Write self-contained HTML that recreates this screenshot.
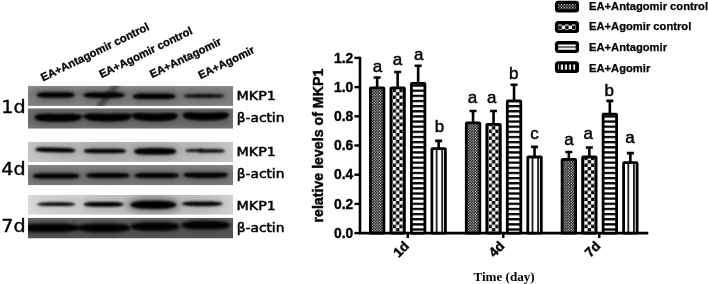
<!DOCTYPE html>
<html><head><meta charset="utf-8"><title>MKP1 figure</title>
<style>
html,body{margin:0;padding:0;background:#fff;}
body{width:708px;height:284px;overflow:hidden;}
svg{display:block;}
.ab{font-family:"Liberation Sans",Arial,sans-serif;font-weight:bold;fill:#000;}
.ar{font-family:"Liberation Sans",Arial,sans-serif;fill:#000;}
.ts{font-family:"Liberation Serif","Times New Roman",serif;font-weight:bold;fill:#000;}
.bl{font-family:"DejaVu Sans","Liberation Sans",sans-serif;fill:#000;}
</style></head><body>
<svg width="708" height="284" viewBox="0 0 708 284">
<defs>
<pattern id="p1" width="2.7" height="2.7" patternUnits="userSpaceOnUse" x="0.3" y="0.5"><rect width="2.7" height="2.7" fill="#000"/><circle cx="0.7" cy="0.7" r="0.66" fill="#fff"/><circle cx="2.05" cy="2.05" r="0.66" fill="#fff"/></pattern>
<pattern id="p2" width="6.8" height="6.8" patternUnits="userSpaceOnUse" x="3.1" y="228.2"><rect width="6.8" height="6.8" fill="#000"/><rect x="0" y="0" width="3.4" height="3.4" fill="#fff"/><rect x="3.4" y="3.4" width="3.4" height="3.4" fill="#fff"/></pattern>
<pattern id="p3" width="5.14" height="5.14" patternUnits="userSpaceOnUse" x="0" y="228.35"><rect width="5.14" height="5.14" fill="#fff"/><rect x="0" y="0" width="5.14" height="2.3" fill="#000"/></pattern>
<pattern id="p4" width="5.6" height="5" patternUnits="userSpaceOnUse" x="-0.4" y="0"><rect width="5.6" height="5" fill="#fff"/><rect x="0" y="0" width="1.8" height="5" fill="#1a1a1a"/></pattern>
<pattern id="l1" width="2.8" height="2.8" patternUnits="userSpaceOnUse" x="0.4" y="0.6"><rect width="2.8" height="2.8" fill="#000"/><rect x="0" y="0" width="1.1" height="1.1" fill="#fff"/><rect x="1.4" y="1.4" width="1.1" height="1.1" fill="#fff"/></pattern>
<pattern id="l2" width="6.8" height="6.8" patternUnits="userSpaceOnUse" x="3.5" y="1.2"><rect width="6.8" height="6.8" fill="#000"/><rect x="0" y="0" width="3.4" height="3.4" fill="#fff"/><rect x="3.4" y="3.4" width="3.4" height="3.4" fill="#fff"/></pattern>
<pattern id="l3" width="30" height="12" patternUnits="userSpaceOnUse"><rect width="30" height="12" fill="#fff"/><rect x="0" y="5.3" width="30" height="1.3" fill="#222"/></pattern>
<pattern id="l4" width="4.1" height="12" patternUnits="userSpaceOnUse" x="3.9" y="0"><rect width="4.1" height="12" fill="#fff"/><rect x="0" y="0" width="2.2" height="12" fill="#000"/></pattern>
<filter id="b1" filterUnits="userSpaceOnUse" x="0" y="60" width="260" height="200"><feGaussianBlur stdDeviation="1.0"/></filter>
<filter id="b2" filterUnits="userSpaceOnUse" x="0" y="60" width="260" height="200"><feGaussianBlur stdDeviation="1.5"/></filter>
<filter id="b3" filterUnits="userSpaceOnUse" x="0" y="60" width="260" height="200"><feGaussianBlur stdDeviation="3.2"/></filter>
<linearGradient id="g1d" x1="0" x2="0" y1="0" y2="1"><stop offset="0" stop-color="#8c8c8c"/><stop offset="0.3" stop-color="#7c7c7c"/><stop offset="1" stop-color="#808080"/></linearGradient>
<linearGradient id="g1a" x1="0" x2="0" y1="0" y2="1"><stop offset="0" stop-color="#707070"/><stop offset="0.5" stop-color="#6a6a6a"/><stop offset="1" stop-color="#727272"/></linearGradient>
<linearGradient id="g4m" x1="0" x2="1" y1="0" y2="0"><stop offset="0" stop-color="#c6c6c6"/><stop offset="0.35" stop-color="#b2b2b2"/><stop offset="0.7" stop-color="#b6b6b6"/><stop offset="1" stop-color="#c6c6c6"/></linearGradient>
<linearGradient id="g4a" x1="0" x2="0" y1="0" y2="1"><stop offset="0" stop-color="#868686"/><stop offset="0.5" stop-color="#787878"/><stop offset="1" stop-color="#7a7a7a"/></linearGradient>
<linearGradient id="g7m" x1="0" x2="1" y1="0" y2="0"><stop offset="0" stop-color="#d8d8d8"/><stop offset="0.45" stop-color="#c2c2c2"/><stop offset="0.8" stop-color="#c0c0c0"/><stop offset="1" stop-color="#d0d0d0"/></linearGradient>
<linearGradient id="g7a" x1="0" x2="0" y1="0" y2="1"><stop offset="0" stop-color="#6a6a6a"/><stop offset="0.25" stop-color="#585858"/><stop offset="1" stop-color="#525252"/></linearGradient>
<clipPath id="c1"><rect x="28" y="85.8" width="205" height="20.1"/></clipPath>
<clipPath id="c2"><rect x="28" y="108.2" width="205" height="20.5"/></clipPath>
<clipPath id="c3"><rect x="28" y="142" width="205" height="20"/></clipPath>
<clipPath id="c4"><rect x="28" y="165" width="205" height="20.3"/></clipPath>
<clipPath id="c5"><rect x="28" y="195" width="205" height="19.8"/></clipPath>
<clipPath id="c6"><rect x="28" y="217.7" width="205" height="20.8"/></clipPath>
</defs>
<rect width="708" height="284" fill="#fff"/>

<g clip-path="url(#c1)"><rect x="28" y="85.8" width="205" height="20.1" fill="url(#g1d)"/><polygon points="113,84 121,84 103,107 95,107" fill="#000" opacity="0.4" filter="url(#b2)"/>
<path d="M34.3 95.00L35.5 92.36L36.7 91.46L37.9 90.90L39.1 90.52L40.3 90.25L41.5 90.06L42.7 89.93L43.9 89.84L45.0 89.78L46.2 89.75L47.4 89.72L48.6 89.71L49.8 89.70L51.0 89.70L52.2 89.70L53.4 89.70L54.6 89.70L55.8 89.70L57.0 89.70L58.2 89.70L59.4 89.70L60.6 89.70L61.8 89.70L63.0 89.71L64.2 89.72L65.4 89.75L66.5 89.78L67.7 89.84L68.9 89.93L70.1 90.06L71.3 90.25L72.5 90.52L73.7 90.90L74.9 91.46L76.1 92.36L77.3 95.00L77.3 95.00L76.1 97.64L74.9 98.54L73.7 99.10L72.5 99.48L71.3 99.75L70.1 99.94L68.9 100.07L67.7 100.16L66.5 100.22L65.4 100.25L64.2 100.28L63.0 100.29L61.8 100.30L60.6 100.30L59.4 100.30L58.2 100.30L57.0 100.30L55.8 100.30L54.6 100.30L53.4 100.30L52.2 100.30L51.0 100.30L49.8 100.30L48.6 100.29L47.4 100.28L46.2 100.25L45.0 100.22L43.9 100.16L42.7 100.07L41.5 99.94L40.3 99.75L39.1 99.48L37.9 99.10L36.7 98.54L35.5 97.64L34.3 95.00Z" fill="#000" opacity="0.25" filter="url(#b3)"/><path d="M36.8 95.00L37.9 93.60L38.9 93.13L40.0 92.83L41.0 92.63L42.1 92.49L43.1 92.39L44.2 92.32L45.2 92.28L46.3 92.24L47.4 92.22L48.4 92.21L49.5 92.21L50.5 92.20L51.6 92.20L52.6 92.20L53.7 92.20L54.7 92.20L55.8 92.20L56.9 92.20L57.9 92.20L59.0 92.20L60.0 92.20L61.1 92.20L62.1 92.21L63.2 92.21L64.2 92.22L65.3 92.24L66.4 92.28L67.4 92.32L68.5 92.39L69.5 92.49L70.6 92.63L71.6 92.83L72.7 93.13L73.7 93.60L74.8 95.00L74.8 95.00L73.7 96.40L72.7 96.87L71.6 97.17L70.6 97.37L69.5 97.51L68.5 97.61L67.4 97.68L66.4 97.72L65.3 97.76L64.2 97.78L63.2 97.79L62.1 97.79L61.1 97.80L60.0 97.80L59.0 97.80L57.9 97.80L56.9 97.80L55.8 97.80L54.7 97.80L53.7 97.80L52.6 97.80L51.6 97.80L50.5 97.80L49.5 97.79L48.4 97.79L47.4 97.78L46.3 97.76L45.2 97.72L44.2 97.68L43.1 97.61L42.1 97.51L41.0 97.37L40.0 97.17L38.9 96.87L37.9 96.40L36.8 95.00Z" fill="#000" opacity="1" filter="url(#b1)"/>
<path d="M80.8 95.20L82.1 92.61L83.4 91.73L84.7 91.18L86.0 90.80L87.2 90.54L88.5 90.35L89.8 90.23L91.1 90.14L92.4 90.08L93.7 90.05L95.0 90.02L96.3 90.01L97.6 90.00L98.8 90.00L100.1 90.00L101.4 90.00L102.7 90.00L104.0 90.00L105.3 90.00L106.6 90.00L107.9 90.00L109.2 90.00L110.4 90.00L111.7 90.01L113.0 90.02L114.3 90.05L115.6 90.08L116.9 90.14L118.2 90.23L119.5 90.35L120.8 90.54L122.0 90.80L123.3 91.18L124.6 91.73L125.9 92.61L127.2 95.20L127.2 95.20L125.9 97.79L124.6 98.67L123.3 99.22L122.0 99.60L120.8 99.86L119.5 100.05L118.2 100.17L116.9 100.26L115.6 100.32L114.3 100.35L113.0 100.38L111.7 100.39L110.4 100.40L109.2 100.40L107.9 100.40L106.6 100.40L105.3 100.40L104.0 100.40L102.7 100.40L101.4 100.40L100.1 100.40L98.8 100.40L97.6 100.40L96.3 100.39L95.0 100.38L93.7 100.35L92.4 100.32L91.1 100.26L89.8 100.17L88.5 100.05L87.2 99.86L86.0 99.60L84.7 99.22L83.4 98.67L82.1 97.79L80.8 95.20Z" fill="#000" opacity="0.25" filter="url(#b3)"/><path d="M83.3 95.20L84.5 93.85L85.6 93.40L86.8 93.11L87.9 92.92L89.0 92.78L90.2 92.68L91.3 92.62L92.5 92.57L93.7 92.54L94.8 92.52L96.0 92.51L97.1 92.51L98.2 92.50L99.4 92.50L100.5 92.50L101.7 92.50L102.8 92.50L104.0 92.50L105.2 92.50L106.3 92.50L107.5 92.50L108.6 92.50L109.8 92.50L110.9 92.51L112.0 92.51L113.2 92.52L114.3 92.54L115.5 92.57L116.7 92.62L117.8 92.68L119.0 92.78L120.1 92.92L121.2 93.11L122.4 93.40L123.6 93.85L124.7 95.20L124.7 95.20L123.6 96.55L122.4 97.00L121.2 97.29L120.1 97.48L119.0 97.62L117.8 97.72L116.7 97.78L115.5 97.83L114.3 97.86L113.2 97.88L112.0 97.89L110.9 97.89L109.8 97.90L108.6 97.90L107.5 97.90L106.3 97.90L105.2 97.90L104.0 97.90L102.8 97.90L101.7 97.90L100.5 97.90L99.4 97.90L98.2 97.90L97.1 97.89L96.0 97.89L94.8 97.88L93.7 97.86L92.5 97.83L91.3 97.78L90.2 97.72L89.0 97.62L87.9 97.48L86.8 97.29L85.6 97.00L84.5 96.55L83.3 95.20Z" fill="#000" opacity="1" filter="url(#b1)"/>
<path d="M130.1 96.30L131.4 93.66L132.8 92.76L134.1 92.20L135.4 91.82L136.8 91.55L138.1 91.36L139.5 91.23L140.8 91.14L142.1 91.08L143.5 91.05L144.8 91.02L146.1 91.01L147.5 91.00L148.8 91.00L150.1 91.00L151.5 91.00L152.8 91.00L154.1 91.00L155.5 91.00L156.8 91.00L158.2 91.00L159.5 91.00L160.8 91.00L162.2 91.01L163.5 91.02L164.8 91.05L166.2 91.08L167.5 91.14L168.8 91.23L170.2 91.36L171.5 91.55L172.9 91.82L174.2 92.20L175.5 92.76L176.9 93.66L178.2 96.30L178.2 96.30L176.9 98.94L175.5 99.84L174.2 100.40L172.9 100.78L171.5 101.05L170.2 101.24L168.8 101.37L167.5 101.46L166.2 101.52L164.8 101.55L163.5 101.58L162.2 101.59L160.8 101.60L159.5 101.60L158.2 101.60L156.8 101.60L155.5 101.60L154.1 101.60L152.8 101.60L151.5 101.60L150.1 101.60L148.8 101.60L147.5 101.60L146.1 101.59L144.8 101.58L143.5 101.55L142.1 101.52L140.8 101.46L139.5 101.37L138.1 101.24L136.8 101.05L135.4 100.78L134.1 100.40L132.8 99.84L131.4 98.94L130.1 96.30Z" fill="#000" opacity="0.25" filter="url(#b3)"/><path d="M132.6 96.30L133.8 94.90L135.0 94.43L136.2 94.13L137.4 93.93L138.6 93.79L139.8 93.69L141.0 93.62L142.2 93.58L143.4 93.54L144.6 93.52L145.8 93.51L147.0 93.51L148.2 93.50L149.4 93.50L150.6 93.50L151.8 93.50L153.0 93.50L154.1 93.50L155.3 93.50L156.5 93.50L157.7 93.50L158.9 93.50L160.1 93.50L161.3 93.51L162.5 93.51L163.7 93.52L164.9 93.54L166.1 93.58L167.3 93.62L168.5 93.69L169.7 93.79L170.9 93.93L172.1 94.13L173.3 94.43L174.5 94.90L175.7 96.30L175.7 96.30L174.5 97.70L173.3 98.17L172.1 98.47L170.9 98.67L169.7 98.81L168.5 98.91L167.3 98.98L166.1 99.02L164.9 99.06L163.7 99.08L162.5 99.09L161.3 99.09L160.1 99.10L158.9 99.10L157.7 99.10L156.5 99.10L155.3 99.10L154.1 99.10L153.0 99.10L151.8 99.10L150.6 99.10L149.4 99.10L148.2 99.10L147.0 99.09L145.8 99.09L144.6 99.08L143.4 99.06L142.2 99.02L141.0 98.98L139.8 98.91L138.6 98.81L137.4 98.67L136.2 98.47L135.0 98.17L133.8 97.70L132.6 96.30Z" fill="#000" opacity="1" filter="url(#b1)"/>
<path d="M181.0 96.00L182.3 93.81L183.5 93.06L184.8 92.60L186.1 92.28L187.4 92.06L188.6 91.90L189.9 91.79L191.2 91.72L192.4 91.67L193.7 91.64L195.0 91.62L196.3 91.61L197.5 91.60L198.8 91.60L200.1 91.60L201.4 91.60L202.6 91.60L203.9 91.60L205.2 91.60L206.4 91.60L207.7 91.60L209.0 91.60L210.3 91.60L211.5 91.61L212.8 91.62L214.1 91.64L215.4 91.67L216.6 91.72L217.9 91.79L219.2 91.90L220.4 92.06L221.7 92.28L223.0 92.60L224.3 93.06L225.5 93.81L226.8 96.00L226.8 96.00L225.5 98.19L224.3 98.94L223.0 99.40L221.7 99.72L220.4 99.94L219.2 100.10L217.9 100.21L216.6 100.28L215.4 100.33L214.1 100.36L212.8 100.38L211.5 100.39L210.3 100.40L209.0 100.40L207.7 100.40L206.4 100.40L205.2 100.40L203.9 100.40L202.6 100.40L201.4 100.40L200.1 100.40L198.8 100.40L197.5 100.40L196.3 100.39L195.0 100.38L193.7 100.36L192.4 100.33L191.2 100.28L189.9 100.21L188.6 100.10L187.4 99.94L186.1 99.72L184.8 99.40L183.5 98.94L182.3 98.19L181.0 96.00Z" fill="#000" opacity="0.15" filter="url(#b3)"/><path d="M183.5 96.00L184.6 95.05L185.8 94.73L186.9 94.53L188.0 94.39L189.2 94.30L190.3 94.23L191.4 94.18L192.6 94.15L193.7 94.13L194.8 94.12L196.0 94.11L197.1 94.10L198.2 94.10L199.4 94.10L200.5 94.10L201.6 94.10L202.8 94.10L203.9 94.10L205.0 94.10L206.2 94.10L207.3 94.10L208.4 94.10L209.6 94.10L210.7 94.10L211.8 94.11L213.0 94.12L214.1 94.13L215.2 94.15L216.4 94.18L217.5 94.23L218.6 94.30L219.8 94.39L220.9 94.53L222.0 94.73L223.2 95.05L224.3 96.00L224.3 96.00L223.2 96.95L222.0 97.27L220.9 97.47L219.8 97.61L218.6 97.70L217.5 97.77L216.4 97.82L215.2 97.85L214.1 97.87L213.0 97.88L211.8 97.89L210.7 97.90L209.6 97.90L208.4 97.90L207.3 97.90L206.2 97.90L205.0 97.90L203.9 97.90L202.8 97.90L201.6 97.90L200.5 97.90L199.4 97.90L198.2 97.90L197.1 97.90L196.0 97.89L194.8 97.88L193.7 97.87L192.6 97.85L191.4 97.82L190.3 97.77L189.2 97.70L188.0 97.61L186.9 97.47L185.8 97.27L184.6 96.95L183.5 96.00Z" fill="#000" opacity="0.85" filter="url(#b1)"/>
</g>
<g clip-path="url(#c2)"><rect x="28" y="108.2" width="205" height="20.5" fill="url(#g1a)"/>
<path d="M32.0 117.20L33.4 114.07L34.9 113.06L36.3 112.43L37.7 112.02L39.2 111.75L40.6 111.57L42.1 111.45L43.5 111.39L44.9 111.35L46.4 111.34L47.8 111.34L49.2 111.35L50.7 111.36L52.1 111.37L53.5 111.38L55.0 111.39L56.4 111.40L57.9 111.40L59.3 111.40L60.7 111.39L62.2 111.38L63.6 111.37L65.0 111.36L66.5 111.35L67.9 111.34L69.3 111.34L70.8 111.35L72.2 111.39L73.6 111.45L75.1 111.57L76.5 111.75L78.0 112.02L79.4 112.43L80.8 113.06L82.3 114.07L83.7 117.20L83.7 117.20L82.3 120.46L80.8 121.60L79.4 122.33L78.0 122.85L76.5 123.22L75.1 123.50L73.6 123.70L72.2 123.84L70.8 123.95L69.3 124.03L67.9 124.08L66.5 124.12L65.0 124.15L63.6 124.17L62.2 124.18L60.7 124.19L59.3 124.20L57.9 124.20L56.4 124.20L55.0 124.19L53.5 124.18L52.1 124.17L50.7 124.15L49.2 124.12L47.8 124.08L46.4 124.03L44.9 123.95L43.5 123.84L42.1 123.70L40.6 123.50L39.2 123.22L37.7 122.85L36.3 122.33L34.9 121.60L33.4 120.46L32.0 117.20Z" fill="#000" opacity="0.22" filter="url(#b3)"/><path d="M34.5 117.20L35.8 115.32L37.1 114.72L38.4 114.37L39.7 114.14L41.0 113.99L42.3 113.90L43.6 113.85L44.9 113.82L46.2 113.81L47.5 113.82L48.8 113.83L50.1 113.84L51.4 113.86L52.7 113.87L54.0 113.88L55.3 113.89L56.6 113.90L57.9 113.90L59.1 113.90L60.4 113.89L61.7 113.88L63.0 113.87L64.3 113.86L65.6 113.84L66.9 113.83L68.2 113.82L69.5 113.81L70.8 113.82L72.1 113.85L73.4 113.90L74.7 113.99L76.0 114.14L77.3 114.37L78.6 114.72L79.9 115.32L81.2 117.20L81.2 117.20L79.9 119.21L78.6 119.93L77.3 120.40L76.0 120.74L74.7 120.98L73.4 121.17L72.1 121.31L70.8 121.41L69.5 121.49L68.2 121.55L66.9 121.59L65.6 121.63L64.3 121.65L63.0 121.67L61.7 121.68L60.4 121.69L59.1 121.70L57.9 121.70L56.6 121.70L55.3 121.69L54.0 121.68L52.7 121.67L51.4 121.65L50.1 121.63L48.8 121.59L47.5 121.55L46.2 121.49L44.9 121.41L43.6 121.31L42.3 121.17L41.0 120.98L39.7 120.74L38.4 120.40L37.1 119.93L35.8 119.21L34.5 117.20Z" fill="#000" opacity="1" filter="url(#b1)"/>
<path d="M82.0 116.40L83.4 113.34L84.9 112.38L86.3 111.82L87.7 111.46L89.2 111.24L90.6 111.10L92.0 111.03L93.4 111.00L94.9 111.00L96.3 111.02L97.7 111.05L99.2 111.08L100.6 111.11L102.0 111.14L103.5 111.17L104.9 111.19L106.3 111.20L107.8 111.20L109.2 111.20L110.6 111.19L112.0 111.17L113.5 111.14L114.9 111.11L116.3 111.08L117.8 111.05L119.2 111.02L120.6 111.00L122.1 111.00L123.5 111.03L124.9 111.10L126.3 111.24L127.8 111.46L129.2 111.82L130.6 112.38L132.1 113.34L133.5 116.40L133.5 116.40L132.1 119.72L130.6 120.92L129.2 121.72L127.8 122.29L126.3 122.71L124.9 123.03L123.5 123.27L122.1 123.46L120.6 123.60L119.2 123.71L117.8 123.79L116.3 123.85L114.9 123.90L113.5 123.94L112.0 123.97L110.6 123.99L109.2 124.00L107.8 124.00L106.3 124.00L104.9 123.99L103.5 123.97L102.0 123.94L100.6 123.90L99.2 123.85L97.7 123.79L96.3 123.71L94.9 123.60L93.4 123.46L92.0 123.27L90.6 123.03L89.2 122.71L87.7 122.29L86.3 121.72L84.9 120.92L83.4 119.72L82.0 116.40Z" fill="#000" opacity="0.22" filter="url(#b3)"/><path d="M84.5 116.40L85.8 114.59L87.1 114.05L88.4 113.75L89.7 113.58L91.0 113.48L92.2 113.43L93.5 113.42L94.8 113.43L96.1 113.46L97.4 113.50L98.7 113.54L100.0 113.57L101.3 113.61L102.6 113.64L103.9 113.67L105.2 113.69L106.5 113.70L107.8 113.70L109.0 113.70L110.3 113.69L111.6 113.67L112.9 113.64L114.2 113.61L115.5 113.57L116.8 113.54L118.1 113.50L119.4 113.46L120.7 113.43L122.0 113.42L123.2 113.43L124.5 113.48L125.8 113.58L127.1 113.75L128.4 114.05L129.7 114.59L131.0 116.40L131.0 116.40L129.7 118.47L128.4 119.25L127.1 119.78L125.8 120.17L124.5 120.47L123.2 120.70L122.0 120.88L120.7 121.03L119.4 121.14L118.1 121.23L116.8 121.30L115.5 121.36L114.2 121.40L112.9 121.44L111.6 121.47L110.3 121.49L109.0 121.50L107.8 121.50L106.5 121.50L105.2 121.49L103.9 121.47L102.6 121.44L101.3 121.40L100.0 121.36L98.7 121.30L97.4 121.23L96.1 121.14L94.8 121.03L93.5 120.88L92.2 120.70L91.0 120.47L89.7 120.17L88.4 119.78L87.1 119.25L85.8 118.47L84.5 116.40Z" fill="#000" opacity="1" filter="url(#b1)"/>
<path d="M130.0 115.70L131.4 112.68L132.8 111.77L134.2 111.24L135.6 110.92L137.0 110.73L138.4 110.63L139.8 110.58L141.2 110.58L142.6 110.60L144.0 110.64L145.4 110.69L146.8 110.74L148.2 110.78L149.6 110.82L151.0 110.86L152.4 110.88L153.8 110.90L155.2 110.90L156.7 110.90L158.1 110.88L159.5 110.86L160.9 110.82L162.3 110.78L163.7 110.74L165.1 110.69L166.5 110.64L167.9 110.60L169.3 110.58L170.7 110.58L172.1 110.63L173.5 110.73L174.9 110.92L176.3 111.24L177.7 111.77L179.1 112.68L180.5 115.70L180.5 115.70L179.1 119.06L177.7 120.31L176.3 121.14L174.9 121.75L173.5 122.20L172.1 122.55L170.7 122.82L169.3 123.03L167.9 123.20L166.5 123.33L165.1 123.43L163.7 123.51L162.3 123.57L160.9 123.62L159.5 123.66L158.1 123.68L156.7 123.70L155.2 123.70L153.8 123.70L152.4 123.68L151.0 123.66L149.6 123.62L148.2 123.57L146.8 123.51L145.4 123.43L144.0 123.33L142.6 123.20L141.2 123.03L139.8 122.82L138.4 122.55L137.0 122.20L135.6 121.75L134.2 121.14L132.8 120.31L131.4 119.06L130.0 115.70Z" fill="#000" opacity="0.22" filter="url(#b3)"/><path d="M132.5 115.70L133.8 113.93L135.0 113.43L136.3 113.17L137.6 113.03L138.8 112.97L140.1 112.95L141.3 112.97L142.6 113.01L143.9 113.06L145.1 113.12L146.4 113.18L147.7 113.23L148.9 113.28L150.2 113.32L151.5 113.36L152.7 113.38L154.0 113.40L155.2 113.40L156.5 113.40L157.8 113.38L159.0 113.36L160.3 113.32L161.6 113.28L162.8 113.23L164.1 113.18L165.4 113.12L166.6 113.06L167.9 113.01L169.2 112.97L170.4 112.95L171.7 112.97L172.9 113.03L174.2 113.17L175.5 113.43L176.7 113.93L178.0 115.70L178.0 115.70L176.7 117.82L175.5 118.64L174.2 119.21L172.9 119.63L171.7 119.96L170.4 120.22L169.2 120.43L167.9 120.60L166.6 120.74L165.4 120.85L164.1 120.94L162.8 121.01L161.6 121.07L160.3 121.12L159.0 121.16L157.8 121.18L156.5 121.20L155.2 121.20L154.0 121.20L152.7 121.18L151.5 121.16L150.2 121.12L148.9 121.07L147.7 121.01L146.4 120.94L145.1 120.85L143.9 120.74L142.6 120.60L141.3 120.43L140.1 120.22L138.8 119.96L137.6 119.63L136.3 119.21L135.0 118.64L133.8 117.82L132.5 115.70Z" fill="#000" opacity="1" filter="url(#b1)"/>
<path d="M180.0 114.90L181.4 111.90L182.9 111.01L184.3 110.50L185.7 110.20L187.2 110.02L188.6 109.94L190.0 109.91L191.4 109.92L192.9 109.95L194.3 110.00L195.7 110.06L197.2 110.11L198.6 110.17L200.0 110.21L201.5 110.25L202.9 110.28L204.3 110.29L205.8 110.30L207.2 110.29L208.6 110.28L210.0 110.25L211.5 110.21L212.9 110.17L214.3 110.11L215.8 110.06L217.2 110.00L218.6 109.95L220.1 109.92L221.5 109.91L222.9 109.94L224.3 110.02L225.8 110.20L227.2 110.50L228.6 111.01L230.1 111.90L231.5 114.90L231.5 114.90L230.1 118.29L228.6 119.55L227.2 120.40L225.8 121.02L224.3 121.50L222.9 121.86L221.5 122.15L220.1 122.37L218.6 122.55L217.2 122.69L215.8 122.80L214.3 122.89L212.9 122.96L211.5 123.01L210.0 123.05L208.6 123.08L207.2 123.09L205.8 123.10L204.3 123.09L202.9 123.08L201.5 123.05L200.0 123.01L198.6 122.96L197.2 122.89L195.7 122.80L194.3 122.69L192.9 122.55L191.4 122.37L190.0 122.15L188.6 121.86L187.2 121.50L185.7 121.02L184.3 120.40L182.9 119.55L181.4 118.29L180.0 114.90Z" fill="#000" opacity="0.22" filter="url(#b3)"/><path d="M182.5 114.90L183.8 113.15L185.1 112.68L186.4 112.43L187.7 112.31L189.0 112.27L190.2 112.27L191.5 112.30L192.8 112.35L194.1 112.41L195.4 112.48L196.7 112.55L198.0 112.61L199.3 112.66L200.6 112.71L201.9 112.75L203.2 112.78L204.5 112.79L205.8 112.80L207.0 112.79L208.3 112.78L209.6 112.75L210.9 112.71L212.2 112.66L213.5 112.61L214.8 112.55L216.1 112.48L217.4 112.41L218.7 112.35L220.0 112.30L221.2 112.27L222.5 112.27L223.8 112.31L225.1 112.43L226.4 112.68L227.7 113.15L229.0 114.90L229.0 114.90L227.7 117.04L226.4 117.88L225.1 118.47L223.8 118.91L222.5 119.26L221.2 119.53L220.0 119.76L218.7 119.94L217.4 120.09L216.1 120.21L214.8 120.31L213.5 120.39L212.2 120.46L210.9 120.51L209.6 120.55L208.3 120.58L207.0 120.59L205.8 120.60L204.5 120.59L203.2 120.58L201.9 120.55L200.6 120.51L199.3 120.46L198.0 120.39L196.7 120.31L195.4 120.21L194.1 120.09L192.8 119.94L191.5 119.76L190.2 119.53L189.0 119.26L187.7 118.91L186.4 118.47L185.1 117.88L183.8 117.04L182.5 114.90Z" fill="#000" opacity="1" filter="url(#b1)"/>
<path d="M78.0 116.50L78.3 115.75L78.6 115.50L78.8 115.34L79.1 115.23L79.4 115.16L79.7 115.10L79.9 115.07L80.2 115.04L80.5 115.02L80.8 115.01L81.1 115.01L81.3 115.00L81.6 115.00L81.9 115.00L82.2 115.00L82.4 115.00L82.7 115.00L83.0 115.00L83.3 115.00L83.6 115.00L83.8 115.00L84.1 115.00L84.4 115.00L84.7 115.00L84.9 115.01L85.2 115.01L85.5 115.02L85.8 115.04L86.1 115.07L86.3 115.10L86.6 115.16L86.9 115.23L87.2 115.34L87.4 115.50L87.7 115.75L88.0 116.50L88.0 116.50L87.7 117.25L87.4 117.50L87.2 117.66L86.9 117.77L86.6 117.84L86.3 117.90L86.1 117.93L85.8 117.96L85.5 117.98L85.2 117.99L84.9 117.99L84.7 118.00L84.4 118.00L84.1 118.00L83.8 118.00L83.6 118.00L83.3 118.00L83.0 118.00L82.7 118.00L82.4 118.00L82.2 118.00L81.9 118.00L81.6 118.00L81.3 118.00L81.1 117.99L80.8 117.99L80.5 117.98L80.2 117.96L79.9 117.93L79.7 117.90L79.4 117.84L79.1 117.77L78.8 117.66L78.6 117.50L78.3 117.25L78.0 116.50Z" fill="#000" opacity="0.6" filter="url(#b1)"/>
<path d="M128.0 115.50L128.2 114.75L128.4 114.50L128.7 114.34L128.9 114.23L129.1 114.16L129.3 114.10L129.6 114.07L129.8 114.04L130.0 114.02L130.2 114.01L130.4 114.01L130.7 114.00L130.9 114.00L131.1 114.00L131.3 114.00L131.6 114.00L131.8 114.00L132.0 114.00L132.2 114.00L132.4 114.00L132.7 114.00L132.9 114.00L133.1 114.00L133.3 114.00L133.6 114.01L133.8 114.01L134.0 114.02L134.2 114.04L134.4 114.07L134.7 114.10L134.9 114.16L135.1 114.23L135.3 114.34L135.6 114.50L135.8 114.75L136.0 115.50L136.0 115.50L135.8 116.25L135.6 116.50L135.3 116.66L135.1 116.77L134.9 116.84L134.7 116.90L134.4 116.93L134.2 116.96L134.0 116.98L133.8 116.99L133.6 116.99L133.3 117.00L133.1 117.00L132.9 117.00L132.7 117.00L132.4 117.00L132.2 117.00L132.0 117.00L131.8 117.00L131.6 117.00L131.3 117.00L131.1 117.00L130.9 117.00L130.7 117.00L130.4 116.99L130.2 116.99L130.0 116.98L129.8 116.96L129.6 116.93L129.3 116.90L129.1 116.84L128.9 116.77L128.7 116.66L128.4 116.50L128.2 116.25L128.0 115.50Z" fill="#000" opacity="0.7" filter="url(#b1)"/>
</g>
<g clip-path="url(#c3)"><rect x="28" y="142" width="205" height="20" fill="url(#g4m)"/>
<path d="M32.6 149.40L33.9 147.02L35.1 146.23L36.4 145.75L37.7 145.43L38.9 145.22L40.2 145.08L41.5 144.99L42.7 144.95L44.0 144.93L45.3 144.93L46.5 144.94L47.8 144.96L49.1 144.99L50.3 145.02L51.6 145.05L52.9 145.08L54.1 145.12L55.4 145.15L56.7 145.18L57.9 145.22L59.2 145.25L60.5 145.28L61.7 145.32L63.0 145.36L64.3 145.40L65.5 145.46L66.8 145.53L68.1 145.61L69.3 145.73L70.6 145.88L71.9 146.09L73.1 146.36L74.4 146.75L75.7 147.30L76.9 148.15L78.2 150.60L78.2 150.60L76.9 152.98L75.7 153.77L74.4 154.25L73.1 154.57L71.9 154.78L70.6 154.92L69.3 155.01L68.1 155.05L66.8 155.07L65.5 155.07L64.3 155.06L63.0 155.04L61.7 155.01L60.5 154.98L59.2 154.95L57.9 154.92L56.7 154.88L55.4 154.85L54.1 154.82L52.9 154.78L51.6 154.75L50.3 154.72L49.1 154.68L47.8 154.64L46.5 154.60L45.3 154.54L44.0 154.47L42.7 154.39L41.5 154.27L40.2 154.12L38.9 153.91L37.7 153.64L36.4 153.25L35.1 152.70L33.9 151.85L32.6 149.40Z" fill="#000" opacity="0.12" filter="url(#b3)"/><path d="M35.1 149.40L36.2 148.26L37.4 147.90L38.5 147.68L39.6 147.55L40.7 147.46L41.9 147.41L43.0 147.39L44.1 147.38L45.2 147.39L46.4 147.40L47.5 147.43L48.6 147.45L49.8 147.49L50.9 147.52L52.0 147.55L53.1 147.58L54.3 147.62L55.4 147.65L56.5 147.68L57.7 147.72L58.8 147.75L59.9 147.78L61.0 147.82L62.2 147.85L63.3 147.89L64.4 147.94L65.6 147.99L66.7 148.05L67.8 148.12L68.9 148.21L70.1 148.33L71.2 148.48L72.3 148.68L73.4 148.97L74.6 149.40L75.7 150.60L75.7 150.60L74.6 151.74L73.4 152.10L72.3 152.32L71.2 152.45L70.1 152.54L68.9 152.59L67.8 152.61L66.7 152.62L65.6 152.61L64.4 152.60L63.3 152.57L62.2 152.55L61.0 152.51L59.9 152.48L58.8 152.45L57.7 152.42L56.5 152.38L55.4 152.35L54.3 152.32L53.1 152.28L52.0 152.25L50.9 152.22L49.8 152.18L48.6 152.15L47.5 152.11L46.4 152.06L45.2 152.01L44.1 151.95L43.0 151.88L41.9 151.79L40.7 151.67L39.6 151.52L38.5 151.32L37.4 151.03L36.2 150.60L35.1 149.40Z" fill="#000" opacity="1" filter="url(#b1)"/>
<path d="M80.8 151.00L82.1 148.63L83.5 147.83L84.8 147.33L86.1 146.98L87.5 146.74L88.8 146.57L90.2 146.46L91.5 146.38L92.8 146.32L94.2 146.29L95.5 146.27L96.8 146.26L98.2 146.25L99.5 146.25L100.8 146.25L102.2 146.25L103.5 146.25L104.8 146.25L106.2 146.25L107.5 146.25L108.9 146.25L110.2 146.25L111.5 146.25L112.9 146.26L114.2 146.27L115.5 146.29L116.9 146.32L118.2 146.38L119.5 146.46L120.9 146.57L122.2 146.74L123.6 146.98L124.9 147.33L126.2 147.83L127.6 148.63L128.9 151.00L128.9 151.00L127.6 153.37L126.2 154.17L124.9 154.67L123.6 155.02L122.2 155.26L120.9 155.43L119.5 155.54L118.2 155.62L116.9 155.68L115.5 155.71L114.2 155.73L112.9 155.74L111.5 155.75L110.2 155.75L108.9 155.75L107.5 155.75L106.2 155.75L104.8 155.75L103.5 155.75L102.2 155.75L100.8 155.75L99.5 155.75L98.2 155.75L96.8 155.74L95.5 155.73L94.2 155.71L92.8 155.68L91.5 155.62L90.2 155.54L88.8 155.43L87.5 155.26L86.1 155.02L84.8 154.67L83.5 154.17L82.1 153.37L80.8 151.00Z" fill="#000" opacity="0.12" filter="url(#b3)"/><path d="M83.3 151.00L84.5 149.88L85.7 149.50L86.9 149.26L88.1 149.10L89.3 148.98L90.5 148.90L91.7 148.85L92.9 148.81L94.1 148.79L95.3 148.77L96.5 148.76L97.7 148.75L98.9 148.75L100.1 148.75L101.3 148.75L102.5 148.75L103.7 148.75L104.8 148.75L106.0 148.75L107.2 148.75L108.4 148.75L109.6 148.75L110.8 148.75L112.0 148.75L113.2 148.76L114.4 148.77L115.6 148.79L116.8 148.81L118.0 148.85L119.2 148.90L120.4 148.98L121.6 149.10L122.8 149.26L124.0 149.50L125.2 149.88L126.4 151.00L126.4 151.00L125.2 152.12L124.0 152.50L122.8 152.74L121.6 152.90L120.4 153.02L119.2 153.10L118.0 153.15L116.8 153.19L115.6 153.21L114.4 153.23L113.2 153.24L112.0 153.25L110.8 153.25L109.6 153.25L108.4 153.25L107.2 153.25L106.0 153.25L104.8 153.25L103.7 153.25L102.5 153.25L101.3 153.25L100.1 153.25L98.9 153.25L97.7 153.25L96.5 153.24L95.3 153.23L94.1 153.21L92.9 153.19L91.7 153.15L90.5 153.10L89.3 153.02L88.1 152.90L86.9 152.74L85.7 152.50L84.5 152.12L83.3 151.00Z" fill="#000" opacity="1" filter="url(#b1)"/>
<path d="M131.3 151.40L132.6 148.51L134.0 147.53L135.3 146.91L136.6 146.49L137.9 146.20L139.2 146.00L140.6 145.85L141.9 145.76L143.2 145.69L144.6 145.65L145.9 145.63L147.2 145.61L148.5 145.60L149.9 145.60L151.2 145.60L152.5 145.60L153.8 145.60L155.2 145.60L156.5 145.60L157.8 145.60L159.1 145.60L160.5 145.60L161.8 145.60L163.1 145.61L164.4 145.63L165.8 145.65L167.1 145.69L168.4 145.76L169.7 145.85L171.1 146.00L172.4 146.20L173.7 146.49L175.0 146.91L176.3 147.53L177.7 148.51L179.0 151.40L179.0 151.40L177.7 154.29L176.3 155.27L175.0 155.89L173.7 156.31L172.4 156.60L171.1 156.80L169.7 156.95L168.4 157.04L167.1 157.11L165.8 157.15L164.4 157.17L163.1 157.19L161.8 157.20L160.5 157.20L159.1 157.20L157.8 157.20L156.5 157.20L155.2 157.20L153.8 157.20L152.5 157.20L151.2 157.20L149.9 157.20L148.5 157.20L147.2 157.19L145.9 157.17L144.6 157.15L143.2 157.11L141.9 157.04L140.6 156.95L139.2 156.80L137.9 156.60L136.6 156.31L135.3 155.89L134.0 155.27L132.6 154.29L131.3 151.40Z" fill="#000" opacity="0.18" filter="url(#b3)"/><path d="M133.8 151.40L135.0 149.75L136.2 149.20L137.4 148.85L138.5 148.61L139.7 148.44L140.9 148.32L142.1 148.24L143.3 148.19L144.5 148.15L145.7 148.13L146.8 148.11L148.0 148.11L149.2 148.10L150.4 148.10L151.6 148.10L152.8 148.10L154.0 148.10L155.2 148.10L156.3 148.10L157.5 148.10L158.7 148.10L159.9 148.10L161.1 148.10L162.3 148.11L163.5 148.11L164.6 148.13L165.8 148.15L167.0 148.19L168.2 148.24L169.4 148.32L170.6 148.44L171.8 148.61L172.9 148.85L174.1 149.20L175.3 149.75L176.5 151.40L176.5 151.40L175.3 153.05L174.1 153.60L172.9 153.95L171.8 154.19L170.6 154.36L169.4 154.48L168.2 154.56L167.0 154.61L165.8 154.65L164.6 154.67L163.5 154.69L162.3 154.69L161.1 154.70L159.9 154.70L158.7 154.70L157.5 154.70L156.3 154.70L155.2 154.70L154.0 154.70L152.8 154.70L151.6 154.70L150.4 154.70L149.2 154.70L148.0 154.69L146.8 154.69L145.7 154.67L144.5 154.65L143.3 154.61L142.1 154.56L140.9 154.48L139.7 154.36L138.5 154.19L137.4 153.95L136.2 153.60L135.0 153.05L133.8 151.40Z" fill="#000" opacity="1" filter="url(#b1)"/>
<path d="M183.0 150.60L183.7 148.61L184.3 147.93L185.0 147.51L185.6 147.22L186.3 147.01L186.9 146.87L187.6 146.77L188.2 146.71L188.9 146.66L189.5 146.63L190.2 146.62L190.8 146.61L191.5 146.60L192.1 146.60L192.8 146.60L193.4 146.60L194.1 146.60L194.8 146.60L195.4 146.60L196.1 146.60L196.7 146.60L197.4 146.60L198.0 146.60L198.7 146.61L199.3 146.62L200.0 146.63L200.6 146.66L201.3 146.71L201.9 146.77L202.6 146.87L203.2 147.01L203.9 147.22L204.5 147.51L205.2 147.93L205.8 148.61L206.5 150.60L206.5 150.60L205.8 152.59L205.2 153.27L204.5 153.69L203.9 153.98L203.2 154.19L202.6 154.33L201.9 154.43L201.3 154.49L200.6 154.54L200.0 154.57L199.3 154.58L198.7 154.59L198.0 154.60L197.4 154.60L196.7 154.60L196.1 154.60L195.4 154.60L194.8 154.60L194.1 154.60L193.4 154.60L192.8 154.60L192.1 154.60L191.5 154.60L190.8 154.59L190.2 154.58L189.5 154.57L188.9 154.54L188.2 154.49L187.6 154.43L186.9 154.33L186.3 154.19L185.6 153.98L185.0 153.69L184.3 153.27L183.7 152.59L183.0 150.60Z" fill="#000" opacity="0.08" filter="url(#b3)"/><path d="M185.5 150.60L186.0 149.85L186.5 149.60L187.0 149.44L187.6 149.33L188.1 149.26L188.6 149.20L189.1 149.17L189.6 149.14L190.1 149.12L190.6 149.11L191.2 149.11L191.7 149.10L192.2 149.10L192.7 149.10L193.2 149.10L193.7 149.10L194.2 149.10L194.8 149.10L195.3 149.10L195.8 149.10L196.3 149.10L196.8 149.10L197.3 149.10L197.8 149.10L198.3 149.11L198.9 149.11L199.4 149.12L199.9 149.14L200.4 149.17L200.9 149.20L201.4 149.26L201.9 149.33L202.5 149.44L203.0 149.60L203.5 149.85L204.0 150.60L204.0 150.60L203.5 151.35L203.0 151.60L202.5 151.76L201.9 151.87L201.4 151.94L200.9 152.00L200.4 152.03L199.9 152.06L199.4 152.08L198.9 152.09L198.3 152.09L197.8 152.10L197.3 152.10L196.8 152.10L196.3 152.10L195.8 152.10L195.3 152.10L194.8 152.10L194.2 152.10L193.7 152.10L193.2 152.10L192.7 152.10L192.2 152.10L191.7 152.10L191.2 152.09L190.6 152.09L190.1 152.08L189.6 152.06L189.1 152.03L188.6 152.00L188.1 151.94L187.6 151.87L187.0 151.76L186.5 151.60L186.0 151.35L185.5 150.60Z" fill="#000" opacity="0.9" filter="url(#b1)"/>
<path d="M195.5 150.90L196.4 148.76L197.3 148.03L198.2 147.57L199.1 147.26L199.9 147.05L200.8 146.89L201.7 146.79L202.6 146.72L203.5 146.67L204.4 146.64L205.3 146.62L206.2 146.61L207.1 146.60L207.9 146.60L208.8 146.60L209.7 146.60L210.6 146.60L211.5 146.60L212.4 146.60L213.3 146.60L214.2 146.60L215.1 146.60L215.9 146.60L216.8 146.61L217.7 146.62L218.6 146.64L219.5 146.67L220.4 146.72L221.3 146.79L222.2 146.89L223.1 147.05L223.9 147.26L224.8 147.57L225.7 148.03L226.6 148.76L227.5 150.90L227.5 150.90L226.6 153.04L225.7 153.77L224.8 154.23L223.9 154.54L223.1 154.75L222.2 154.91L221.3 155.01L220.4 155.08L219.5 155.13L218.6 155.16L217.7 155.18L216.8 155.19L215.9 155.20L215.1 155.20L214.2 155.20L213.3 155.20L212.4 155.20L211.5 155.20L210.6 155.20L209.7 155.20L208.8 155.20L207.9 155.20L207.1 155.20L206.2 155.19L205.3 155.18L204.4 155.16L203.5 155.13L202.6 155.08L201.7 155.01L200.8 154.91L199.9 154.75L199.1 154.54L198.2 154.23L197.3 153.77L196.4 153.04L195.5 150.90Z" fill="#000" opacity="0.08" filter="url(#b3)"/><path d="M198.0 150.90L198.8 150.00L199.5 149.70L200.2 149.51L201.0 149.38L201.8 149.29L202.5 149.22L203.2 149.18L204.0 149.15L204.8 149.13L205.5 149.12L206.2 149.11L207.0 149.10L207.8 149.10L208.5 149.10L209.2 149.10L210.0 149.10L210.8 149.10L211.5 149.10L212.2 149.10L213.0 149.10L213.8 149.10L214.5 149.10L215.2 149.10L216.0 149.10L216.8 149.11L217.5 149.12L218.2 149.13L219.0 149.15L219.8 149.18L220.5 149.22L221.2 149.29L222.0 149.38L222.8 149.51L223.5 149.70L224.2 150.00L225.0 150.90L225.0 150.90L224.2 151.80L223.5 152.10L222.8 152.29L222.0 152.42L221.2 152.51L220.5 152.58L219.8 152.62L219.0 152.65L218.2 152.67L217.5 152.68L216.8 152.69L216.0 152.70L215.2 152.70L214.5 152.70L213.8 152.70L213.0 152.70L212.2 152.70L211.5 152.70L210.8 152.70L210.0 152.70L209.2 152.70L208.5 152.70L207.8 152.70L207.0 152.70L206.2 152.69L205.5 152.68L204.8 152.67L204.0 152.65L203.2 152.62L202.5 152.58L201.8 152.51L201.0 152.42L200.2 152.29L199.5 152.10L198.8 151.80L198.0 150.90Z" fill="#000" opacity="0.92" filter="url(#b1)"/>
</g>
<g clip-path="url(#c4)"><rect x="28" y="165" width="205" height="20.3" fill="url(#g4a)"/>
<path d="M30.1 176.00L31.6 173.46L33.0 172.60L34.5 172.06L35.9 171.69L37.4 171.43L38.8 171.25L40.3 171.12L41.7 171.04L43.2 170.98L44.6 170.94L46.1 170.92L47.5 170.91L49.0 170.90L50.4 170.90L51.9 170.90L53.3 170.90L54.8 170.90L56.2 170.90L57.7 170.90L59.2 170.90L60.6 170.90L62.1 170.90L63.5 170.90L65.0 170.91L66.4 170.92L67.9 170.94L69.3 170.98L70.8 171.04L72.2 171.12L73.7 171.25L75.1 171.43L76.6 171.69L78.0 172.06L79.5 172.60L80.9 173.46L82.4 176.00L82.4 176.00L80.9 178.54L79.5 179.40L78.0 179.94L76.6 180.31L75.1 180.57L73.7 180.75L72.2 180.88L70.8 180.96L69.3 181.02L67.9 181.06L66.4 181.08L65.0 181.09L63.5 181.10L62.1 181.10L60.6 181.10L59.2 181.10L57.7 181.10L56.2 181.10L54.8 181.10L53.3 181.10L51.9 181.10L50.4 181.10L49.0 181.10L47.5 181.09L46.1 181.08L44.6 181.06L43.2 181.02L41.7 180.96L40.3 180.88L38.8 180.75L37.4 180.57L35.9 180.31L34.5 179.94L33.0 179.40L31.6 178.54L30.1 176.00Z" fill="#000" opacity="0.25" filter="url(#b3)"/><path d="M32.6 176.00L33.9 174.70L35.2 174.27L36.5 173.99L37.9 173.80L39.2 173.67L40.5 173.58L41.8 173.51L43.1 173.47L44.4 173.44L45.7 173.42L47.1 173.41L48.4 173.41L49.7 173.40L51.0 173.40L52.3 173.40L53.6 173.40L54.9 173.40L56.2 173.40L57.6 173.40L58.9 173.40L60.2 173.40L61.5 173.40L62.8 173.40L64.1 173.41L65.4 173.41L66.8 173.42L68.1 173.44L69.4 173.47L70.7 173.51L72.0 173.58L73.3 173.67L74.6 173.80L76.0 173.99L77.3 174.27L78.6 174.70L79.9 176.00L79.9 176.00L78.6 177.30L77.3 177.73L76.0 178.01L74.6 178.20L73.3 178.33L72.0 178.42L70.7 178.49L69.4 178.53L68.1 178.56L66.8 178.58L65.4 178.59L64.1 178.59L62.8 178.60L61.5 178.60L60.2 178.60L58.9 178.60L57.6 178.60L56.2 178.60L54.9 178.60L53.6 178.60L52.3 178.60L51.0 178.60L49.7 178.60L48.4 178.59L47.1 178.59L45.7 178.58L44.4 178.56L43.1 178.53L41.8 178.49L40.5 178.42L39.2 178.33L37.9 178.20L36.5 178.01L35.2 177.73L33.9 177.30L32.6 176.00Z" fill="#000" opacity="1" filter="url(#b1)"/>
<path d="M83.3 175.50L84.7 173.03L86.0 172.20L87.4 171.67L88.7 171.31L90.1 171.06L91.4 170.89L92.8 170.77L94.2 170.68L95.5 170.63L96.9 170.59L98.2 170.57L99.6 170.56L101.0 170.55L102.3 170.55L103.7 170.55L105.0 170.55L106.4 170.55L107.8 170.55L109.1 170.55L110.5 170.55L111.8 170.55L113.2 170.55L114.5 170.55L115.9 170.56L117.3 170.57L118.6 170.59L120.0 170.63L121.3 170.68L122.7 170.77L124.0 170.89L125.4 171.06L126.8 171.31L128.1 171.67L129.5 172.20L130.8 173.03L132.2 175.50L132.2 175.50L130.8 177.97L129.5 178.80L128.1 179.33L126.8 179.69L125.4 179.94L124.0 180.11L122.7 180.23L121.3 180.32L120.0 180.37L118.6 180.41L117.3 180.43L115.9 180.44L114.5 180.45L113.2 180.45L111.8 180.45L110.5 180.45L109.1 180.45L107.8 180.45L106.4 180.45L105.0 180.45L103.7 180.45L102.3 180.45L101.0 180.45L99.6 180.44L98.2 180.43L96.9 180.41L95.5 180.37L94.2 180.32L92.8 180.23L91.4 180.11L90.1 179.94L88.7 179.69L87.4 179.33L86.0 178.80L84.7 177.97L83.3 175.50Z" fill="#000" opacity="0.25" filter="url(#b3)"/><path d="M85.8 175.50L87.0 174.28L88.2 173.87L89.5 173.61L90.7 173.43L91.9 173.30L93.1 173.22L94.3 173.16L95.6 173.12L96.8 173.09L98.0 173.07L99.2 173.06L100.4 173.06L101.7 173.05L102.9 173.05L104.1 173.05L105.3 173.05L106.5 173.05L107.8 173.05L109.0 173.05L110.2 173.05L111.4 173.05L112.6 173.05L113.8 173.05L115.1 173.06L116.3 173.06L117.5 173.07L118.7 173.09L119.9 173.12L121.2 173.16L122.4 173.22L123.6 173.30L124.8 173.43L126.0 173.61L127.3 173.87L128.5 174.28L129.7 175.50L129.7 175.50L128.5 176.72L127.3 177.13L126.0 177.39L124.8 177.57L123.6 177.70L122.4 177.78L121.2 177.84L119.9 177.88L118.7 177.91L117.5 177.93L116.3 177.94L115.1 177.94L113.8 177.95L112.6 177.95L111.4 177.95L110.2 177.95L109.0 177.95L107.8 177.95L106.5 177.95L105.3 177.95L104.1 177.95L102.9 177.95L101.7 177.95L100.4 177.94L99.2 177.94L98.0 177.93L96.8 177.91L95.6 177.88L94.3 177.84L93.1 177.78L91.9 177.70L90.7 177.57L89.5 177.39L88.2 177.13L87.0 176.72L85.8 175.50Z" fill="#000" opacity="1" filter="url(#b1)"/>
<path d="M131.8 175.50L133.2 172.96L134.6 172.10L135.9 171.56L137.3 171.19L138.7 170.93L140.1 170.75L141.5 170.62L142.8 170.54L144.2 170.48L145.6 170.44L147.0 170.42L148.4 170.41L149.7 170.40L151.1 170.40L152.5 170.40L153.9 170.40L155.3 170.40L156.7 170.40L158.0 170.40L159.4 170.40L160.8 170.40L162.2 170.40L163.6 170.40L164.9 170.41L166.3 170.42L167.7 170.44L169.1 170.48L170.5 170.54L171.8 170.62L173.2 170.75L174.6 170.93L176.0 171.19L177.4 171.56L178.7 172.10L180.1 172.96L181.5 175.50L181.5 175.50L180.1 178.04L178.7 178.90L177.4 179.44L176.0 179.81L174.6 180.07L173.2 180.25L171.8 180.38L170.5 180.46L169.1 180.52L167.7 180.56L166.3 180.58L164.9 180.59L163.6 180.60L162.2 180.60L160.8 180.60L159.4 180.60L158.0 180.60L156.7 180.60L155.3 180.60L153.9 180.60L152.5 180.60L151.1 180.60L149.7 180.60L148.4 180.59L147.0 180.58L145.6 180.56L144.2 180.52L142.8 180.46L141.5 180.38L140.1 180.25L138.7 180.07L137.3 179.81L135.9 179.44L134.6 178.90L133.2 178.04L131.8 175.50Z" fill="#000" opacity="0.25" filter="url(#b3)"/><path d="M134.3 175.50L135.5 174.20L136.8 173.77L138.0 173.49L139.3 173.30L140.5 173.17L141.8 173.08L143.0 173.01L144.2 172.97L145.5 172.94L146.7 172.92L148.0 172.91L149.2 172.91L150.4 172.90L151.7 172.90L152.9 172.90L154.2 172.90L155.4 172.90L156.7 172.90L157.9 172.90L159.1 172.90L160.4 172.90L161.6 172.90L162.9 172.90L164.1 172.91L165.3 172.91L166.6 172.92L167.8 172.94L169.1 172.97L170.3 173.01L171.6 173.08L172.8 173.17L174.0 173.30L175.3 173.49L176.5 173.77L177.8 174.20L179.0 175.50L179.0 175.50L177.8 176.80L176.5 177.23L175.3 177.51L174.0 177.70L172.8 177.83L171.6 177.92L170.3 177.99L169.1 178.03L167.8 178.06L166.6 178.08L165.3 178.09L164.1 178.09L162.9 178.10L161.6 178.10L160.4 178.10L159.1 178.10L157.9 178.10L156.7 178.10L155.4 178.10L154.2 178.10L152.9 178.10L151.7 178.10L150.4 178.10L149.2 178.09L148.0 178.09L146.7 178.08L145.5 178.06L144.2 178.03L143.0 177.99L141.8 177.92L140.5 177.83L139.3 177.70L138.0 177.51L136.8 177.23L135.5 176.80L134.3 175.50Z" fill="#000" opacity="1" filter="url(#b1)"/>
<path d="M180.8 174.80L182.2 172.30L183.6 171.49L184.9 171.00L186.3 170.68L187.7 170.47L189.1 170.33L190.5 170.25L191.8 170.20L193.2 170.18L194.6 170.18L196.0 170.18L197.4 170.19L198.7 170.21L200.1 170.22L201.5 170.23L202.9 170.24L204.3 170.25L205.7 170.25L207.0 170.25L208.4 170.24L209.8 170.23L211.2 170.22L212.6 170.21L213.9 170.19L215.3 170.18L216.7 170.18L218.1 170.18L219.5 170.20L220.8 170.25L222.2 170.33L223.6 170.47L225.0 170.68L226.4 171.00L227.7 171.49L229.1 172.30L230.5 174.80L230.5 174.80L229.1 177.43L227.7 178.36L226.4 178.97L225.0 179.39L223.6 179.70L222.2 179.93L220.8 180.10L219.5 180.23L218.1 180.32L216.7 180.39L215.3 180.44L213.9 180.47L212.6 180.50L211.2 180.52L209.8 180.53L208.4 180.54L207.0 180.55L205.7 180.55L204.3 180.55L202.9 180.54L201.5 180.53L200.1 180.52L198.7 180.50L197.4 180.47L196.0 180.44L194.6 180.39L193.2 180.32L191.8 180.23L190.5 180.10L189.1 179.93L187.7 179.70L186.3 179.39L184.9 178.97L183.6 178.36L182.2 177.43L180.8 174.80Z" fill="#000" opacity="0.25" filter="url(#b3)"/><path d="M183.3 174.80L184.5 173.54L185.8 173.16L187.0 172.93L188.3 172.80L189.5 172.71L190.8 172.66L192.0 172.64L193.2 172.64L194.5 172.64L195.7 172.65L197.0 172.67L198.2 172.69L199.4 172.71L200.7 172.72L201.9 172.73L203.2 172.74L204.4 172.75L205.7 172.75L206.9 172.75L208.1 172.74L209.4 172.73L210.6 172.72L211.9 172.71L213.1 172.69L214.3 172.67L215.6 172.65L216.8 172.64L218.1 172.64L219.3 172.64L220.6 172.66L221.8 172.71L223.0 172.80L224.3 172.93L225.5 173.16L226.8 173.54L228.0 174.80L228.0 174.80L226.8 176.19L225.5 176.69L224.3 177.03L223.0 177.28L221.8 177.46L220.6 177.60L219.3 177.71L218.1 177.79L216.8 177.86L215.6 177.91L214.3 177.95L213.1 177.98L211.9 178.00L210.6 178.02L209.4 178.03L208.1 178.04L206.9 178.05L205.7 178.05L204.4 178.05L203.2 178.04L201.9 178.03L200.7 178.02L199.4 178.00L198.2 177.98L197.0 177.95L195.7 177.91L194.5 177.86L193.2 177.79L192.0 177.71L190.8 177.60L189.5 177.46L188.3 177.28L187.0 177.03L185.8 176.69L184.5 176.19L183.3 174.80Z" fill="#000" opacity="1" filter="url(#b1)"/>
</g>
<g clip-path="url(#c5)"><rect x="28" y="195" width="205" height="19.8" fill="url(#g7m)"/>
<path d="M34.5 204.20L35.7 202.40L36.9 201.73L38.1 201.27L39.3 200.93L40.5 200.66L41.8 200.45L43.0 200.28L44.2 200.15L45.4 200.05L46.6 199.97L47.8 199.91L49.0 199.87L50.2 199.84L51.4 199.82L52.6 199.81L53.8 199.80L55.0 199.80L56.2 199.80L57.5 199.80L58.7 199.80L59.9 199.81L61.1 199.82L62.3 199.84L63.5 199.87L64.7 199.91L65.9 199.97L67.1 200.05L68.3 200.15L69.5 200.28L70.8 200.45L72.0 200.66L73.2 200.93L74.4 201.27L75.6 201.73L76.8 202.40L78.0 204.20L78.0 204.20L76.8 206.00L75.6 206.67L74.4 207.13L73.2 207.47L72.0 207.74L70.8 207.95L69.5 208.12L68.3 208.25L67.1 208.35L65.9 208.43L64.7 208.49L63.5 208.53L62.3 208.56L61.1 208.58L59.9 208.59L58.7 208.60L57.5 208.60L56.2 208.60L55.0 208.60L53.8 208.60L52.6 208.59L51.4 208.58L50.2 208.56L49.0 208.53L47.8 208.49L46.6 208.43L45.4 208.35L44.2 208.25L43.0 208.12L41.8 207.95L40.5 207.74L39.3 207.47L38.1 207.13L36.9 206.67L35.7 206.00L34.5 204.20Z" fill="#000" opacity="0.08" filter="url(#b3)"/><path d="M37.0 204.20L38.1 203.42L39.1 203.14L40.2 202.94L41.3 202.79L42.3 202.67L43.4 202.58L44.5 202.51L45.6 202.45L46.6 202.41L47.7 202.37L48.8 202.35L49.8 202.33L50.9 202.32L52.0 202.31L53.0 202.30L54.1 202.30L55.2 202.30L56.2 202.30L57.3 202.30L58.4 202.30L59.5 202.30L60.5 202.31L61.6 202.32L62.7 202.33L63.7 202.35L64.8 202.37L65.9 202.41L66.9 202.45L68.0 202.51L69.1 202.58L70.2 202.67L71.2 202.79L72.3 202.94L73.4 203.14L74.4 203.42L75.5 204.20L75.5 204.20L74.4 204.98L73.4 205.26L72.3 205.46L71.2 205.61L70.2 205.73L69.1 205.82L68.0 205.89L66.9 205.95L65.9 205.99L64.8 206.03L63.7 206.05L62.7 206.07L61.6 206.08L60.5 206.09L59.5 206.10L58.4 206.10L57.3 206.10L56.2 206.10L55.2 206.10L54.1 206.10L53.0 206.10L52.0 206.09L50.9 206.08L49.8 206.07L48.8 206.05L47.7 206.03L46.6 205.99L45.6 205.95L44.5 205.89L43.4 205.82L42.3 205.73L41.3 205.61L40.2 205.46L39.1 205.26L38.1 204.98L37.0 204.20Z" fill="#000" opacity="0.95" filter="url(#b1)"/>
<path d="M80.9 204.30L82.2 202.21L83.4 201.45L84.7 200.93L85.9 200.55L87.2 200.26L88.5 200.03L89.7 199.86L91.0 199.72L92.2 199.62L93.5 199.55L94.8 199.49L96.0 199.45L97.3 199.43L98.6 199.41L99.8 199.40L101.1 199.40L102.3 199.40L103.6 199.40L104.9 199.40L106.1 199.40L107.4 199.40L108.6 199.41L109.9 199.43L111.2 199.45L112.4 199.49L113.7 199.55L115.0 199.62L116.2 199.72L117.5 199.86L118.7 200.03L120.0 200.26L121.3 200.55L122.5 200.93L123.8 201.45L125.0 202.21L126.3 204.30L126.3 204.30L125.0 206.39L123.8 207.15L122.5 207.67L121.3 208.05L120.0 208.34L118.7 208.57L117.5 208.74L116.2 208.88L115.0 208.98L113.7 209.05L112.4 209.11L111.2 209.15L109.9 209.17L108.6 209.19L107.4 209.20L106.1 209.20L104.9 209.20L103.6 209.20L102.3 209.20L101.1 209.20L99.8 209.20L98.6 209.19L97.3 209.17L96.0 209.15L94.8 209.11L93.5 209.05L92.2 208.98L91.0 208.88L89.7 208.74L88.5 208.57L87.2 208.34L85.9 208.05L84.7 207.67L83.4 207.15L82.2 206.39L80.9 204.30Z" fill="#000" opacity="0.12" filter="url(#b3)"/><path d="M83.4 204.30L84.5 203.28L85.6 202.91L86.8 202.65L87.9 202.46L89.0 202.32L90.1 202.21L91.3 202.12L92.4 202.06L93.5 202.01L94.6 201.97L95.7 201.94L96.9 201.93L98.0 201.91L99.1 201.91L100.2 201.90L101.4 201.90L102.5 201.90L103.6 201.90L104.7 201.90L105.8 201.90L107.0 201.90L108.1 201.91L109.2 201.91L110.3 201.93L111.5 201.94L112.6 201.97L113.7 202.01L114.8 202.06L115.9 202.12L117.1 202.21L118.2 202.32L119.3 202.46L120.4 202.65L121.6 202.91L122.7 203.28L123.8 204.30L123.8 204.30L122.7 205.32L121.6 205.69L120.4 205.95L119.3 206.14L118.2 206.28L117.1 206.39L115.9 206.48L114.8 206.54L113.7 206.59L112.6 206.63L111.5 206.66L110.3 206.67L109.2 206.69L108.1 206.69L107.0 206.70L105.8 206.70L104.7 206.70L103.6 206.70L102.5 206.70L101.4 206.70L100.2 206.70L99.1 206.69L98.0 206.69L96.9 206.67L95.7 206.66L94.6 206.63L93.5 206.59L92.4 206.54L91.3 206.48L90.1 206.39L89.0 206.28L87.9 206.14L86.8 205.95L85.6 205.69L84.5 205.32L83.4 204.30Z" fill="#000" opacity="1" filter="url(#b1)"/>
<path d="M126.2 204.80L127.7 201.58L129.2 200.38L130.7 199.54L132.2 198.91L133.7 198.41L135.2 198.01L136.7 197.68L138.2 197.43L139.8 197.22L141.3 197.06L142.8 196.94L144.3 196.85L145.8 196.79L147.3 196.74L148.8 196.72L150.3 196.71L151.8 196.70L153.3 196.70L154.8 196.70L156.3 196.71L157.8 196.72L159.3 196.74L160.8 196.79L162.3 196.85L163.8 196.94L165.3 197.06L166.8 197.22L168.4 197.43L169.9 197.68L171.4 198.01L172.9 198.41L174.4 198.91L175.9 199.54L177.4 200.38L178.9 201.58L180.4 204.80L180.4 204.80L178.9 208.02L177.4 209.22L175.9 210.06L174.4 210.69L172.9 211.19L171.4 211.59L169.9 211.92L168.4 212.17L166.8 212.38L165.3 212.54L163.8 212.66L162.3 212.75L160.8 212.81L159.3 212.86L157.8 212.88L156.3 212.89L154.8 212.90L153.3 212.90L151.8 212.90L150.3 212.89L148.8 212.88L147.3 212.86L145.8 212.81L144.3 212.75L142.8 212.66L141.3 212.54L139.8 212.38L138.2 212.17L136.7 211.92L135.2 211.59L133.7 211.19L132.2 210.69L130.7 210.06L129.2 209.22L127.7 208.02L126.2 204.80Z" fill="#000" opacity="0.35" filter="url(#b3)"/><path d="M130.2 204.80L131.5 203.17L132.8 202.56L134.0 202.14L135.3 201.82L136.6 201.56L137.9 201.36L139.2 201.20L140.5 201.07L141.8 200.96L143.0 200.88L144.3 200.82L145.6 200.78L146.9 200.74L148.2 200.72L149.4 200.71L150.7 200.70L152.0 200.70L153.3 200.70L154.6 200.70L155.9 200.70L157.2 200.71L158.4 200.72L159.7 200.74L161.0 200.78L162.3 200.82L163.6 200.88L164.8 200.96L166.1 201.07L167.4 201.20L168.7 201.36L170.0 201.56L171.3 201.82L172.6 202.14L173.8 202.56L175.1 203.17L176.4 204.80L176.4 204.80L175.1 206.43L173.8 207.04L172.6 207.46L171.3 207.78L170.0 208.04L168.7 208.24L167.4 208.40L166.1 208.53L164.8 208.64L163.6 208.72L162.3 208.78L161.0 208.82L159.7 208.86L158.4 208.88L157.2 208.89L155.9 208.90L154.6 208.90L153.3 208.90L152.0 208.90L150.7 208.90L149.4 208.89L148.2 208.88L146.9 208.86L145.6 208.82L144.3 208.78L143.0 208.72L141.8 208.64L140.5 208.53L139.2 208.40L137.9 208.24L136.6 208.04L135.3 207.78L134.0 207.46L132.8 207.04L131.5 206.43L130.2 204.80Z" fill="#000" opacity="1" filter="url(#b1)"/>
<path d="M179.2 203.80L180.5 201.85L181.8 201.13L183.0 200.62L184.3 200.23L185.6 199.93L186.9 199.69L188.2 199.50L189.4 199.34L190.7 199.22L192.0 199.12L193.3 199.05L194.6 198.99L195.8 198.95L197.1 198.93L198.4 198.91L199.7 198.90L201.0 198.90L202.2 198.90L203.5 198.90L204.8 198.90L206.1 198.91L207.4 198.93L208.7 198.95L209.9 198.99L211.2 199.05L212.5 199.12L213.8 199.22L215.1 199.34L216.3 199.50L217.6 199.69L218.9 199.93L220.2 200.23L221.5 200.62L222.7 201.13L224.0 201.85L225.3 203.80L225.3 203.80L224.0 205.75L222.7 206.47L221.5 206.98L220.2 207.37L218.9 207.67L217.6 207.91L216.3 208.10L215.1 208.26L213.8 208.38L212.5 208.48L211.2 208.55L209.9 208.61L208.7 208.65L207.4 208.67L206.1 208.69L204.8 208.70L203.5 208.70L202.2 208.70L201.0 208.70L199.7 208.70L198.4 208.69L197.1 208.67L195.8 208.65L194.6 208.61L193.3 208.55L192.0 208.48L190.7 208.38L189.4 208.26L188.2 208.10L186.9 207.91L185.6 207.67L184.3 207.37L183.0 206.98L181.8 206.47L180.5 205.75L179.2 203.80Z" fill="#000" opacity="0.12" filter="url(#b3)"/><path d="M181.7 203.80L182.8 202.85L184.0 202.49L185.1 202.24L186.3 202.05L187.4 201.91L188.5 201.79L189.7 201.69L190.8 201.62L192.0 201.56L193.1 201.51L194.3 201.47L195.4 201.44L196.5 201.43L197.7 201.41L198.8 201.41L200.0 201.40L201.1 201.40L202.2 201.40L203.4 201.40L204.5 201.40L205.7 201.41L206.8 201.41L208.0 201.43L209.1 201.44L210.2 201.47L211.4 201.51L212.5 201.56L213.7 201.62L214.8 201.69L216.0 201.79L217.1 201.91L218.2 202.05L219.4 202.24L220.5 202.49L221.7 202.85L222.8 203.80L222.8 203.80L221.7 204.75L220.5 205.11L219.4 205.36L218.2 205.55L217.1 205.69L216.0 205.81L214.8 205.91L213.7 205.98L212.5 206.04L211.4 206.09L210.2 206.13L209.1 206.16L208.0 206.17L206.8 206.19L205.7 206.19L204.5 206.20L203.4 206.20L202.2 206.20L201.1 206.20L200.0 206.20L198.8 206.19L197.7 206.19L196.5 206.17L195.4 206.16L194.3 206.13L193.1 206.09L192.0 206.04L190.8 205.98L189.7 205.91L188.5 205.81L187.4 205.69L186.3 205.55L185.1 205.36L184.0 205.11L182.8 204.75L181.7 203.80Z" fill="#000" opacity="0.97" filter="url(#b1)"/>
</g>
<g clip-path="url(#c6)"><rect x="28" y="217.7" width="205" height="20.8" fill="url(#g7a)"/>
<path d="M15.5 227.90L17.4 225.16L19.2 224.14L21.1 223.42L23.0 222.88L24.9 222.45L26.8 222.11L28.6 221.84L30.5 221.62L32.4 221.45L34.2 221.31L36.1 221.21L38.0 221.13L39.9 221.07L41.8 221.04L43.6 221.02L45.5 221.00L47.4 221.00L49.2 221.00L51.1 221.00L53.0 221.00L54.9 221.02L56.8 221.04L58.6 221.07L60.5 221.13L62.4 221.21L64.2 221.31L66.1 221.45L68.0 221.62L69.9 221.84L71.8 222.11L73.6 222.45L75.5 222.88L77.4 223.42L79.2 224.14L81.1 225.16L83.0 227.90L83.0 227.90L81.1 230.64L79.2 231.66L77.4 232.38L75.5 232.92L73.6 233.35L71.8 233.69L69.9 233.96L68.0 234.18L66.1 234.35L64.2 234.49L62.4 234.59L60.5 234.67L58.6 234.73L56.8 234.76L54.9 234.78L53.0 234.80L51.1 234.80L49.2 234.80L47.4 234.80L45.5 234.80L43.6 234.78L41.8 234.76L39.9 234.73L38.0 234.67L36.1 234.59L34.2 234.49L32.4 234.35L30.5 234.18L28.6 233.96L26.8 233.69L24.9 233.35L23.0 232.92L21.1 232.38L19.2 231.66L17.4 230.64L15.5 227.90Z" fill="#000" opacity="0.1" filter="url(#b3)"/><path d="M18.0 227.90L19.7 226.15L21.5 225.50L23.2 225.04L24.9 224.70L26.7 224.43L28.4 224.21L30.2 224.03L31.9 223.89L33.6 223.78L35.4 223.70L37.1 223.63L38.8 223.58L40.6 223.55L42.3 223.52L44.0 223.51L45.8 223.50L47.5 223.50L49.2 223.50L51.0 223.50L52.7 223.50L54.5 223.51L56.2 223.52L57.9 223.55L59.7 223.58L61.4 223.63L63.1 223.70L64.9 223.78L66.6 223.89L68.3 224.03L70.1 224.21L71.8 224.43L73.6 224.70L75.3 225.04L77.0 225.50L78.8 226.15L80.5 227.90L80.5 227.90L78.8 229.65L77.0 230.30L75.3 230.76L73.6 231.10L71.8 231.37L70.1 231.59L68.3 231.77L66.6 231.91L64.9 232.02L63.1 232.10L61.4 232.17L59.7 232.22L57.9 232.25L56.2 232.28L54.5 232.29L52.7 232.30L51.0 232.30L49.2 232.30L47.5 232.30L45.8 232.30L44.0 232.29L42.3 232.28L40.6 232.25L38.8 232.22L37.1 232.17L35.4 232.10L33.6 232.02L31.9 231.91L30.2 231.77L28.4 231.59L26.7 231.37L24.9 231.10L23.2 230.76L21.5 230.30L19.7 229.65L18.0 227.90Z" fill="#000" opacity="1" filter="url(#b2)"/>
<path d="M75.0 227.90L76.6 225.16L78.2 224.14L79.9 223.42L81.5 222.88L83.1 222.45L84.8 222.11L86.4 221.84L88.0 221.62L89.6 221.45L91.2 221.31L92.9 221.21L94.5 221.13L96.1 221.07L97.8 221.04L99.4 221.02L101.0 221.00L102.6 221.00L104.2 221.00L105.9 221.00L107.5 221.00L109.1 221.02L110.8 221.04L112.4 221.07L114.0 221.13L115.6 221.21L117.2 221.31L118.9 221.45L120.5 221.62L122.1 221.84L123.8 222.11L125.4 222.45L127.0 222.88L128.6 223.42L130.2 224.14L131.9 225.16L133.5 227.90L133.5 227.90L131.9 230.64L130.2 231.66L128.6 232.38L127.0 232.92L125.4 233.35L123.8 233.69L122.1 233.96L120.5 234.18L118.9 234.35L117.2 234.49L115.6 234.59L114.0 234.67L112.4 234.73L110.8 234.76L109.1 234.78L107.5 234.80L105.9 234.80L104.2 234.80L102.6 234.80L101.0 234.80L99.4 234.78L97.8 234.76L96.1 234.73L94.5 234.67L92.9 234.59L91.2 234.49L89.6 234.35L88.0 234.18L86.4 233.96L84.8 233.69L83.1 233.35L81.5 232.92L79.9 232.38L78.2 231.66L76.6 230.64L75.0 227.90Z" fill="#000" opacity="0.1" filter="url(#b3)"/><path d="M77.5 227.90L79.0 226.15L80.5 225.50L82.0 225.04L83.4 224.70L84.9 224.43L86.4 224.21L87.9 224.03L89.4 223.89L90.9 223.78L92.4 223.70L93.8 223.63L95.3 223.58L96.8 223.55L98.3 223.52L99.8 223.51L101.3 223.50L102.8 223.50L104.2 223.50L105.7 223.50L107.2 223.50L108.7 223.51L110.2 223.52L111.7 223.55L113.2 223.58L114.7 223.63L116.1 223.70L117.6 223.78L119.1 223.89L120.6 224.03L122.1 224.21L123.6 224.43L125.1 224.70L126.5 225.04L128.0 225.50L129.5 226.15L131.0 227.90L131.0 227.90L129.5 229.65L128.0 230.30L126.5 230.76L125.1 231.10L123.6 231.37L122.1 231.59L120.6 231.77L119.1 231.91L117.6 232.02L116.1 232.10L114.7 232.17L113.2 232.22L111.7 232.25L110.2 232.28L108.7 232.29L107.2 232.30L105.7 232.30L104.2 232.30L102.8 232.30L101.3 232.30L99.8 232.29L98.3 232.28L96.8 232.25L95.3 232.22L93.8 232.17L92.4 232.10L90.9 232.02L89.4 231.91L87.9 231.77L86.4 231.59L84.9 231.37L83.4 231.10L82.0 230.76L80.5 230.30L79.0 229.65L77.5 227.90Z" fill="#000" opacity="1" filter="url(#b2)"/>
<path d="M127.8 226.60L129.3 223.86L130.8 222.84L132.4 222.12L133.9 221.58L135.4 221.15L136.9 220.81L138.4 220.54L140.0 220.32L141.5 220.15L143.0 220.01L144.5 219.91L146.0 219.83L147.6 219.77L149.1 219.74L150.6 219.72L152.1 219.70L153.6 219.70L155.2 219.70L156.7 219.70L158.2 219.70L159.7 219.72L161.2 219.74L162.7 219.77L164.3 219.83L165.8 219.91L167.3 220.01L168.8 220.15L170.3 220.32L171.9 220.54L173.4 220.81L174.9 221.15L176.4 221.58L177.9 222.12L179.5 222.84L181.0 223.86L182.5 226.60L182.5 226.60L181.0 229.34L179.5 230.36L177.9 231.08L176.4 231.62L174.9 232.05L173.4 232.39L171.9 232.66L170.3 232.88L168.8 233.05L167.3 233.19L165.8 233.29L164.3 233.37L162.7 233.43L161.2 233.46L159.7 233.48L158.2 233.50L156.7 233.50L155.2 233.50L153.6 233.50L152.1 233.50L150.6 233.48L149.1 233.46L147.6 233.43L146.0 233.37L144.5 233.29L143.0 233.19L141.5 233.05L140.0 232.88L138.4 232.66L136.9 232.39L135.4 232.05L133.9 231.62L132.4 231.08L130.8 230.36L129.3 229.34L127.8 226.60Z" fill="#000" opacity="0.1" filter="url(#b3)"/><path d="M130.3 226.60L131.7 224.85L133.1 224.20L134.4 223.74L135.8 223.40L137.2 223.13L138.6 222.91L140.0 222.73L141.3 222.59L142.7 222.48L144.1 222.40L145.5 222.33L146.9 222.28L148.2 222.25L149.6 222.22L151.0 222.21L152.4 222.20L153.8 222.20L155.2 222.20L156.5 222.20L157.9 222.20L159.3 222.21L160.7 222.22L162.1 222.25L163.4 222.28L164.8 222.33L166.2 222.40L167.6 222.48L169.0 222.59L170.3 222.73L171.7 222.91L173.1 223.13L174.5 223.40L175.9 223.74L177.2 224.20L178.6 224.85L180.0 226.60L180.0 226.60L178.6 228.35L177.2 229.00L175.9 229.46L174.5 229.80L173.1 230.07L171.7 230.29L170.3 230.47L169.0 230.61L167.6 230.72L166.2 230.80L164.8 230.87L163.4 230.92L162.1 230.95L160.7 230.98L159.3 230.99L157.9 231.00L156.5 231.00L155.2 231.00L153.8 231.00L152.4 231.00L151.0 230.99L149.6 230.98L148.2 230.95L146.9 230.92L145.5 230.87L144.1 230.80L142.7 230.72L141.3 230.61L140.0 230.47L138.6 230.29L137.2 230.07L135.8 229.80L134.4 229.46L133.1 229.00L131.7 228.35L130.3 226.60Z" fill="#000" opacity="1" filter="url(#b2)"/>
<path d="M178.5 225.20L180.0 222.46L181.5 221.44L183.0 220.72L184.6 220.18L186.1 219.75L187.6 219.41L189.1 219.14L190.6 218.92L192.1 218.75L193.6 218.61L195.2 218.51L196.7 218.43L198.2 218.37L199.7 218.34L201.2 218.32L202.7 218.30L204.2 218.30L205.8 218.30L207.3 218.30L208.8 218.30L210.3 218.32L211.8 218.34L213.3 218.37L214.8 218.43L216.3 218.51L217.9 218.61L219.4 218.75L220.9 218.92L222.4 219.14L223.9 219.41L225.4 219.75L226.9 220.18L228.5 220.72L230.0 221.44L231.5 222.46L233.0 225.20L233.0 225.20L231.5 227.94L230.0 228.96L228.5 229.68L226.9 230.22L225.4 230.65L223.9 230.99L222.4 231.26L220.9 231.48L219.4 231.65L217.9 231.79L216.3 231.89L214.8 231.97L213.3 232.03L211.8 232.06L210.3 232.08L208.8 232.10L207.3 232.10L205.8 232.10L204.2 232.10L202.7 232.10L201.2 232.08L199.7 232.06L198.2 232.03L196.7 231.97L195.2 231.89L193.6 231.79L192.1 231.65L190.6 231.48L189.1 231.26L187.6 230.99L186.1 230.65L184.6 230.22L183.0 229.68L181.5 228.96L180.0 227.94L178.5 225.20Z" fill="#000" opacity="0.1" filter="url(#b3)"/><path d="M181.0 225.20L182.4 223.45L183.8 222.80L185.1 222.34L186.5 222.00L187.9 221.73L189.2 221.51L190.6 221.33L192.0 221.19L193.4 221.08L194.8 221.00L196.1 220.93L197.5 220.88L198.9 220.85L200.2 220.82L201.6 220.81L203.0 220.80L204.4 220.80L205.8 220.80L207.1 220.80L208.5 220.80L209.9 220.81L211.2 220.82L212.6 220.85L214.0 220.88L215.4 220.93L216.8 221.00L218.1 221.08L219.5 221.19L220.9 221.33L222.2 221.51L223.6 221.73L225.0 222.00L226.4 222.34L227.8 222.80L229.1 223.45L230.5 225.20L230.5 225.20L229.1 226.95L227.8 227.60L226.4 228.06L225.0 228.40L223.6 228.67L222.2 228.89L220.9 229.07L219.5 229.21L218.1 229.32L216.8 229.40L215.4 229.47L214.0 229.52L212.6 229.55L211.2 229.58L209.9 229.59L208.5 229.60L207.1 229.60L205.8 229.60L204.4 229.60L203.0 229.60L201.6 229.59L200.2 229.58L198.9 229.55L197.5 229.52L196.1 229.47L194.8 229.40L193.4 229.32L192.0 229.21L190.6 229.07L189.2 228.89L187.9 228.67L186.5 228.40L185.1 228.06L183.8 227.60L182.4 226.95L181.0 225.20Z" fill="#000" opacity="1" filter="url(#b2)"/>
</g>
<text class="bl" x="1.3" y="112.7" font-size="18" stroke="#000" stroke-width="0.4" textLength="24.3" lengthAdjust="spacingAndGlyphs">1d</text>
<text class="bl" x="1.3" y="174.5" font-size="18" stroke="#000" stroke-width="0.4" textLength="24.3" lengthAdjust="spacingAndGlyphs">4d</text>
<text class="bl" x="1.3" y="232.2" font-size="18" stroke="#000" stroke-width="0.4" textLength="24.3" lengthAdjust="spacingAndGlyphs">7d</text>
<text class="bl" x="236.5" y="100.3" font-size="12.9" stroke="#000" stroke-width="0.5" textLength="39.3" lengthAdjust="spacingAndGlyphs">MKP1</text>
<text class="bl" x="236.5" y="155.8" font-size="12.9" stroke="#000" stroke-width="0.5" textLength="39.3" lengthAdjust="spacingAndGlyphs">MKP1</text>
<text class="bl" x="236.5" y="210.3" font-size="12.9" stroke="#000" stroke-width="0.5" textLength="39.3" lengthAdjust="spacingAndGlyphs">MKP1</text>
<text class="bl" x="236.8" y="122.4" font-size="12.9" stroke="#000" stroke-width="0.5" textLength="47.6" lengthAdjust="spacingAndGlyphs">β-actin</text>
<text class="bl" x="236.8" y="178.2" font-size="12.9" stroke="#000" stroke-width="0.5" textLength="47.6" lengthAdjust="spacingAndGlyphs">β-actin</text>
<text class="bl" x="236.8" y="231.9" font-size="12.9" stroke="#000" stroke-width="0.5" textLength="47.6" lengthAdjust="spacingAndGlyphs">β-actin</text>
<text class="ab" font-size="11.2" stroke="#000" stroke-width="0.3" transform="translate(43,81.5) rotate(-26)">EA+Antagomir control</text>
<text class="ab" font-size="11.2" stroke="#000" stroke-width="0.3" transform="translate(101.4,78.3) rotate(-26)">EA+Agomir control</text>
<text class="ab" font-size="11.2" stroke="#000" stroke-width="0.3" transform="translate(152,78.3) rotate(-26)">EA+Antagomir</text>
<text class="ab" font-size="11.2" stroke="#000" stroke-width="0.3" transform="translate(200.5,79.2) rotate(-26)">EA+Agomir</text>
<text class="ab" font-size="14.2" stroke="#000" stroke-width="0.4" transform="translate(322.6,222.5) rotate(-90)">relative levels of MKP1</text>
<path d="M360 56.7V234.29999999999998M359 233.1H648.3" stroke="#000" stroke-width="2.6" fill="none"/>
<path d="M354.4 233.1H360" stroke="#000" stroke-width="2.4"/>
<text class="ab" x="353.2" y="237.7" font-size="13.8" text-anchor="end" stroke="#000" stroke-width="0.4">0.0</text>
<path d="M354.4 203.89999999999998H360" stroke="#000" stroke-width="2.4"/>
<text class="ab" x="353.2" y="208.49999999999997" font-size="13.8" text-anchor="end" stroke="#000" stroke-width="0.4">0.2</text>
<path d="M354.4 174.7H360" stroke="#000" stroke-width="2.4"/>
<text class="ab" x="353.2" y="179.29999999999998" font-size="13.8" text-anchor="end" stroke="#000" stroke-width="0.4">0.4</text>
<path d="M354.4 145.5H360" stroke="#000" stroke-width="2.4"/>
<text class="ab" x="353.2" y="150.1" font-size="13.8" text-anchor="end" stroke="#000" stroke-width="0.4">0.6</text>
<path d="M354.4 116.29999999999998H360" stroke="#000" stroke-width="2.4"/>
<text class="ab" x="353.2" y="120.89999999999998" font-size="13.8" text-anchor="end" stroke="#000" stroke-width="0.4">0.8</text>
<path d="M354.4 87.1H360" stroke="#000" stroke-width="2.4"/>
<text class="ab" x="353.2" y="91.69999999999999" font-size="13.8" text-anchor="end" stroke="#000" stroke-width="0.4">1.0</text>
<path d="M354.4 57.89999999999998H360" stroke="#000" stroke-width="2.4"/>
<text class="ab" x="353.2" y="62.49999999999998" font-size="13.8" text-anchor="end" stroke="#000" stroke-width="0.4">1.2</text>
<path d="M407.8 233.1V238.0" stroke="#000" stroke-width="2.4"/>
<text class="ab" font-size="13.5" text-anchor="end" stroke="#000" stroke-width="0.4" transform="translate(409.8,246.9) rotate(-45)">1d</text>
<path d="M503.3 233.1V238.0" stroke="#000" stroke-width="2.4"/>
<text class="ab" font-size="13.5" text-anchor="end" stroke="#000" stroke-width="0.4" transform="translate(505.3,246.9) rotate(-45)">4d</text>
<path d="M599.3 233.1V238.0" stroke="#000" stroke-width="2.4"/>
<text class="ab" font-size="13.5" text-anchor="end" stroke="#000" stroke-width="0.4" transform="translate(601.3,246.9) rotate(-45)">7d</text>
<text class="ts" x="473.4" y="281" font-size="13.1">Time (day)</text>
<path d="M377.15 87.40V77.18M373.65 77.48H380.65" stroke="#000" stroke-width="2.6" fill="none"/>
<g transform="translate(369.00,0)"><rect x="1.4" y="87.80" width="13.5" height="145.30" rx="0.6" fill="url(#p1)" stroke="#000" stroke-width="2.8"/></g>
<text class="ar" x="377.5" y="72" font-size="17" text-anchor="middle" stroke="#000" stroke-width="0.45">a</text>
<path d="M397.65 87.40V71.63M394.15 71.93H401.15" stroke="#000" stroke-width="2.6" fill="none"/>
<g transform="translate(389.50,0)"><rect x="1.4" y="87.80" width="13.5" height="145.30" rx="0.6" fill="url(#p2)" stroke="#000" stroke-width="2.8"/></g>
<text class="ar" x="397.5" y="65" font-size="17" text-anchor="middle" stroke="#000" stroke-width="0.45">a</text>
<path d="M418.15 83.02V65.50M414.65 65.80H421.65" stroke="#000" stroke-width="2.6" fill="none"/>
<g transform="translate(410.00,0)"><rect x="1.4" y="83.42" width="13.5" height="149.68" rx="0.6" fill="url(#p3)" stroke="#000" stroke-width="2.8"/></g>
<text class="ar" x="418.75" y="60" font-size="17" text-anchor="middle" stroke="#000" stroke-width="0.45">a</text>
<path d="M438.65 148.28V140.54M435.15 140.84H442.15" stroke="#000" stroke-width="2.6" fill="none"/>
<g transform="translate(430.50,0)"><rect x="1.4" y="148.68" width="13.5" height="84.42" rx="0.6" fill="url(#p4)" stroke="#000" stroke-width="2.8"/></g>
<text class="ar" x="439.5" y="132.25" font-size="17" text-anchor="middle" stroke="#000" stroke-width="0.45">b</text>
<path d="M473.05 122.44V110.76M469.55 111.06H476.55" stroke="#000" stroke-width="2.6" fill="none"/>
<g transform="translate(464.90,0)"><rect x="1.4" y="122.84" width="13.5" height="110.26" rx="0.6" fill="url(#p1)" stroke="#000" stroke-width="2.8"/></g>
<text class="ar" x="472.5" y="103" font-size="17" text-anchor="middle" stroke="#000" stroke-width="0.45">a</text>
<path d="M493.55 123.90V110.76M490.05 111.06H497.05" stroke="#000" stroke-width="2.6" fill="none"/>
<g transform="translate(485.40,0)"><rect x="1.4" y="124.30" width="13.5" height="108.80" rx="0.6" fill="url(#p2)" stroke="#000" stroke-width="2.8"/></g>
<text class="ar" x="491.75" y="103" font-size="17" text-anchor="middle" stroke="#000" stroke-width="0.45">a</text>
<path d="M514.05 100.54V84.48M510.55 84.78H517.55" stroke="#000" stroke-width="2.6" fill="none"/>
<g transform="translate(505.90,0)"><rect x="1.4" y="100.94" width="13.5" height="132.16" rx="0.6" fill="url(#p3)" stroke="#000" stroke-width="2.8"/></g>
<text class="ar" x="513.75" y="78.75" font-size="17" text-anchor="middle" stroke="#000" stroke-width="0.45">b</text>
<path d="M534.55 156.60V146.53M531.05 146.83H538.05" stroke="#000" stroke-width="2.6" fill="none"/>
<g transform="translate(526.40,0)"><rect x="1.4" y="157.00" width="13.5" height="76.10" rx="0.6" fill="url(#p4)" stroke="#000" stroke-width="2.8"/></g>
<text class="ar" x="534.5" y="138.75" font-size="17" text-anchor="middle" stroke="#000" stroke-width="0.45">c</text>
<path d="M568.85 158.94V151.64M565.35 151.94H572.35" stroke="#000" stroke-width="2.6" fill="none"/>
<g transform="translate(560.70,0)"><rect x="1.4" y="159.34" width="13.5" height="73.76" rx="0.6" fill="url(#p1)" stroke="#000" stroke-width="2.8"/></g>
<text class="ar" x="569" y="145" font-size="17" text-anchor="middle" stroke="#000" stroke-width="0.45">a</text>
<path d="M589.35 156.60V147.26M585.85 147.56H592.85" stroke="#000" stroke-width="2.6" fill="none"/>
<g transform="translate(581.20,0)"><rect x="1.4" y="157.00" width="13.5" height="76.10" rx="0.6" fill="url(#p2)" stroke="#000" stroke-width="2.8"/></g>
<text class="ar" x="588.25" y="138.75" font-size="17" text-anchor="middle" stroke="#000" stroke-width="0.45">a</text>
<path d="M609.85 113.68V100.54M606.35 100.84H613.35" stroke="#000" stroke-width="2.6" fill="none"/>
<g transform="translate(601.70,0)"><rect x="1.4" y="114.08" width="13.5" height="119.02" rx="0.6" fill="url(#p3)" stroke="#000" stroke-width="2.8"/></g>
<text class="ar" x="609.25" y="96.25" font-size="17" text-anchor="middle" stroke="#000" stroke-width="0.45">b</text>
<path d="M630.35 162.30V152.81M626.85 153.11H633.85" stroke="#000" stroke-width="2.6" fill="none"/>
<g transform="translate(622.20,0)"><rect x="1.4" y="162.70" width="13.5" height="70.40" rx="0.6" fill="url(#p4)" stroke="#000" stroke-width="2.8"/></g>
<text class="ar" x="630" y="142.5" font-size="17" text-anchor="middle" stroke="#000" stroke-width="0.45">a</text>
<g transform="translate(554.9,0.7)">
<rect x="1.65" y="1.65" width="20.8" height="8.6" rx="1.6" fill="url(#l1)" stroke="#000" stroke-width="3.3"/>
</g>
<text class="ab" x="589" y="9.5" font-size="11.2" stroke="#000" stroke-width="0.25">EA+Antagomir control</text>
<g transform="translate(554.9,21.1)">
<rect x="1.65" y="1.65" width="20.8" height="8.6" rx="1.6" fill="url(#l2)" stroke="#000" stroke-width="3.3"/>
</g>
<text class="ab" x="589" y="30" font-size="11.2" stroke="#000" stroke-width="0.25">EA+Agomir control</text>
<g transform="translate(554.9,41.1)">
<rect x="1.65" y="1.65" width="20.8" height="8.6" rx="1.6" fill="url(#l3)" stroke="#000" stroke-width="3.3"/>
</g>
<text class="ab" x="589" y="51.2" font-size="11.2" stroke="#000" stroke-width="0.25">EA+Antagomir</text>
<g transform="translate(554.9,61.2)">
<rect x="1.65" y="1.65" width="20.8" height="8.6" rx="1.6" fill="url(#l4)" stroke="#000" stroke-width="3.3"/>
</g>
<text class="ab" x="589" y="72" font-size="11.2" stroke="#000" stroke-width="0.25">EA+Agomir</text>
</svg></body></html>
